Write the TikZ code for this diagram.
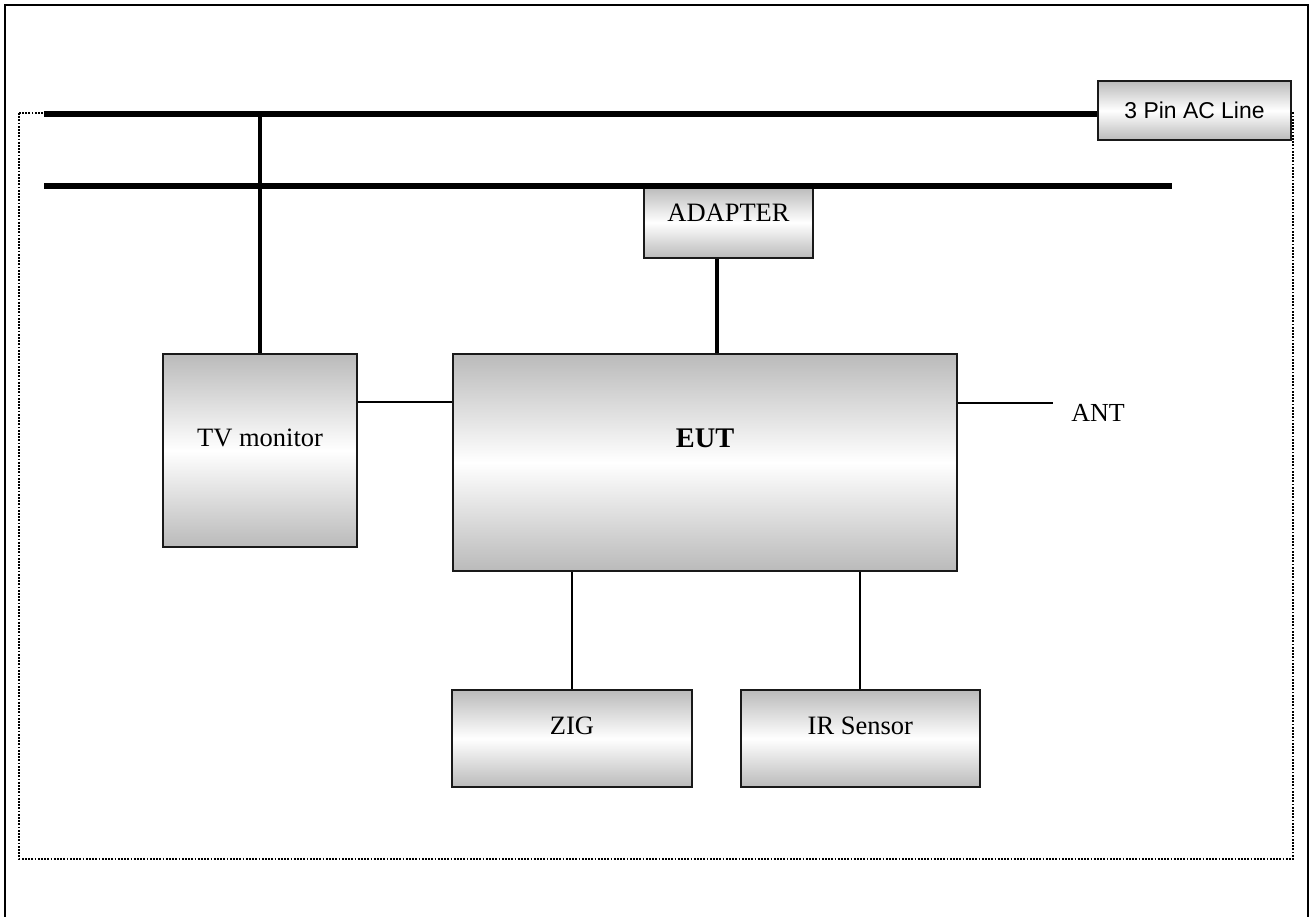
\documentclass[tikz,border=0pt]{standalone}
\usepackage{fontspec}
\setmainfont{Liberation Serif}
\newfontfamily\acfont{Liberation Sans}
\usetikzlibrary{positioning}

\begin{document}
\begin{tikzpicture}[x=1pt,y=-1pt,
 box/.style={draw=black!90,line width=1.8pt,top color=black!27,bottom color=black!27,
 middle color=white,inner sep=0pt,text depth=25pt,font=\fontsize{26.5}{30}\selectfont},
 bus/.style={line width=6pt},
 feed/.style={line width=4.5pt},
 wire/.style={line width=2pt}]
\useasboundingbox (0,0) rectangle (1312,916);
% frames
\draw[line width=2.8pt] (5,930) -- (5,5) -- (1308,5) -- (1308,930);
\draw[dash pattern=on 1.8pt off 1.4pt,line width=1.8pt] (19,113) rectangle (1293,859);
% units
\node[box,minimum width=193pt,minimum height=59pt,text depth=0pt,
 font=\acfont\fontsize{22.9}{27}\selectfont] (acline) at (1194.5,110.5) {3 Pin AC Line};
\node[box,minimum width=169pt,minimum height=71pt,text depth=19pt] (adapter) at (728.5,222.5) {ADAPTER};
\node[box,minimum width=194pt,minimum height=193pt] (tv) at (260,450.5) {TV monitor};
\node[box,minimum width=504pt,minimum height=217pt,text depth=49pt,
 font=\bfseries\fontsize{28.4}{32}\selectfont] (eut) at (705,462.5) {EUT};
\node[box,minimum width=240pt,minimum height=97pt] (zig) at (572,738.5) {ZIG};
\node[box,minimum width=239pt,minimum height=97pt,right=47pt of zig] (ir) {IR Sensor};
\node[font=\fontsize{26}{30}\selectfont,inner sep=0pt] (ant) at (1098,413) {ANT};
% mains
\coordinate (busA) at (44,114);
\coordinate (busB) at (44,186);
\coordinate (busBend) at (1172,186);
\draw[bus] (busA) -- (busA -| acline.west);
\draw[bus] (busB) -- (busBend);
\draw[feed] (tv.north) -- (tv.north |- busA);
\draw[feed] ([xshift=-11.5pt]adapter.south) -- ([xshift=-11.5pt]adapter.south |- eut.north);
% signal lines
\coordinate (antend) at (1053,403);
\draw[wire] ([yshift=48.5pt]tv.east) -- ([yshift=48.5pt]tv.east -| eut.west);
\draw[wire] (antend -| eut.east) -- (antend);
\draw[wire] (zig.north) -- (zig.north |- eut.south);
\draw[wire] (ir.north) -- (ir.north |- eut.south);
\end{tikzpicture}
\end{document}
